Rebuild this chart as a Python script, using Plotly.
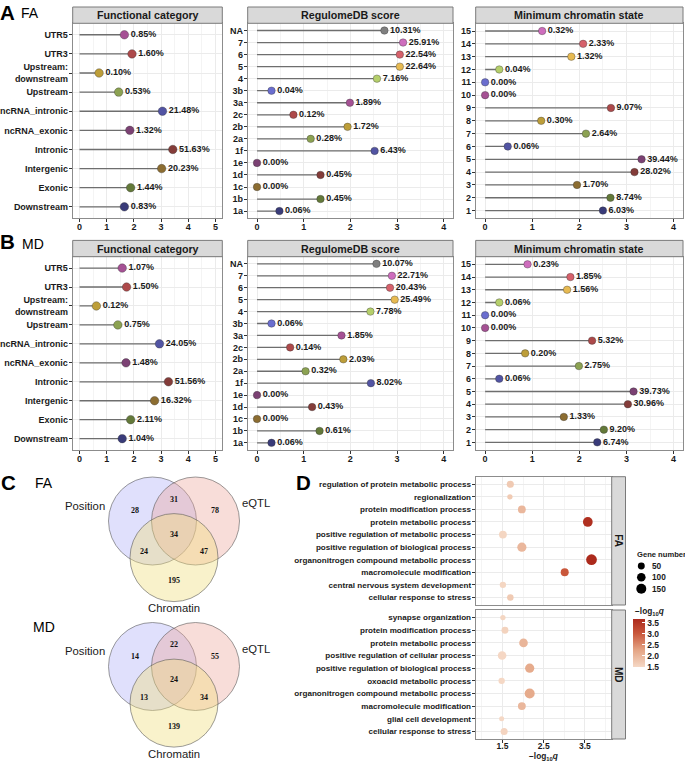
import plotly.graph_objects as go
import math

W, H = 685, 761
def px(x): return x / W
def py(y): return 1 - y / H

# ---------------- DATA ----------------
pal = ["#393B79", "#637939", "#8C6D31", "#843C39", "#7B4173", "#5254A3", "#8CA252",
       "#BD9E39", "#AD494A", "#A55194", "#6B6ECF", "#B5CF6B", "#E7BA52", "#D6616B", "#CE6DBD"]
na_color = "#7F7F7F"

func_cats = ["Downstream", "Exonic", "Intergenic", "Intronic", "ncRNA_exonic", "ncRNA_intronic",
             "Upstream", "Upstream:<br>downstream", "UTR3", "UTR5"]
func_fa_x = [1.65, 1.88, 3.02, 3.43, 1.85, 3.05, 1.44, 0.72, 1.93, 1.65]
func_fa_pct = ["0.83%", "1.44%", "20.23%", "51.63%", "1.32%", "21.48%", "0.53%", "0.10%", "1.60%", "0.85%"]
func_md_x = [1.57, 1.88, 2.76, 3.27, 1.71, 2.94, 1.41, 0.62, 1.73, 1.57]
func_md_pct = ["1.04%", "2.11%", "16.32%", "51.56%", "1.48%", "24.05%", "0.75%", "0.12%", "1.50%", "1.07%"]

reg_cats = ["1a", "1b", "1c", "1d", "1e", "1f", "2a", "2b", "2c", "3a", "3b", "4", "5", "6", "7", "NA"]
reg_fa_x = [0.48, 1.36, 0, 1.36, 0, 2.52, 1.15, 1.94, 0.78, 1.99, 0.31, 2.57, 3.06, 3.06, 3.13, 2.73]
reg_fa_pct = ["0.06%", "0.45%", "0.00%", "0.45%", "0.00%", "6.43%", "0.28%", "1.72%", "0.12%", "1.89%",
              "0.04%", "7.16%", "22.64%", "22.54%", "25.91%", "10.31%"]
reg_md_x = [0.31, 1.34, 0, 1.18, 0, 2.44, 1.04, 1.85, 0.71, 1.81, 0.31, 2.43, 2.95, 2.85, 2.89, 2.56]
reg_md_pct = ["0.06%", "0.61%", "0.00%", "0.43%", "0.00%", "8.02%", "0.32%", "2.03%", "0.14%", "1.85%",
              "0.06%", "7.78%", "25.49%", "20.43%", "22.71%", "10.07%"]

chrom_cats = [str(i) for i in range(1, 16)]
chrom_fa_x = [2.50, 2.66, 1.95, 3.17, 3.32, 0.48, 2.14, 1.19, 2.67, 0, 0, 0.30, 1.83, 2.08, 1.21]
chrom_fa_pct = ["6.03%", "8.74%", "1.70%", "28.02%", "39.44%", "0.06%", "2.64%", "0.30%", "9.07%",
                "0.00%", "0.00%", "0.04%", "1.32%", "2.33%", "0.32%"]
chrom_md_x = [2.38, 2.52, 1.67, 3.03, 3.15, 0.30, 1.99, 0.85, 2.27, 0, 0, 0.30, 1.74, 1.81, 0.90]
chrom_md_pct = ["6.74%", "9.20%", "1.33%", "30.96%", "39.73%", "0.06%", "2.75%", "0.20%", "5.32%",
                "0.00%", "0.00%", "0.06%", "1.56%", "1.85%", "0.23%"]

venn_sets = ["Position", "eQTL", "Chromatin"]
venn_regions = ["P", "E", "C", "PE", "PC", "EC", "PEC"]
venn_fa_counts = [28, 78, 195, 31, 24, 47, 34]
venn_md_counts = [14, 55, 139, 22, 13, 34, 24]

go_fa_terms = ["cellular response to stress", "central nervous system development", "macromolecule modification",
               "organonitrogen compound metabolic process", "positive regulation of biological process",
               "positive regulation of metabolic process", "protein metabolic process",
               "protein modification process", "regionalization", "regulation of protein metabolic process"]
go_fa_q = [1.69, 1.51, 3.01, 3.66, 1.97, 1.51, 3.57, 1.97, 1.68, 1.69]
go_fa_genes = [40, 35, 80, 180, 120, 75, 140, 75, 12, 55]

go_md_terms = ["cellular response to stress", "glial cell development", "macromolecule modification",
               "organonitrogen compound metabolic process", "oxoacid metabolic process",
               "positive regulation of biological process", "positive regulation of cellular process",
               "protein metabolic process", "protein modification process", "synapse organization"]
go_md_q = [1.54, 1.48, 1.97, 2.16, 1.48, 2.16, 1.49, 2.01, 1.56, 1.51]
go_md_genes = [53, 6, 77, 150, 36, 120, 100, 100, 50, 12]

size_legend_vals = [50, 100, 150]
cbar_ticks = [1.5, 2.0, 2.5, 3.0, 3.5]

# ---------------- STYLE ----------------
FONT = "Liberation Sans, Arial, sans-serif"
TXT = "#1a1a1a"
GRID = "#ebebeb"
BORDER = "#8c8c8c"
colorscale = [[0, "#f5d8c5"], [0.35, "#e4a585"], [0.7, "#c9573b"], [1, "#ac2a1c"]]

def gsize(n):
    return math.sqrt(22 + 0.52 * n)

def B(s):
    return "<b>" + str(s) + "</b>"

fig = go.Figure()
layout = dict(width=W, height=H, margin=dict(l=0, r=0, t=0, b=0),
              paper_bgcolor="white", plot_bgcolor="white", showlegend=False,
              font=dict(family=FONT, color=TXT))
shapes = []
annotations = []

def ann(x, y, text, size, color=TXT, family=None, xanchor="center", angle=0):
    f = dict(size=size, color=color)
    if family:
        f["family"] = family
    annotations.append(dict(x=px(x), y=py(y), xref="paper", yref="paper", text=text, showarrow=False,
                            xanchor=xanchor, yanchor="middle", textangle=angle, font=f))

def names(i):
    s = "" if i == 1 else str(i)
    return "x" + s, "y" + s, "xaxis" + s, "yaxis" + s

def strip(x0, x1, y0, y1, text, angle=0, size=10.7):
    shapes.append(dict(type="rect", xref="paper", yref="paper", x0=px(x0), x1=px(x1), y0=py(y1), y1=py(y0),
                       fillcolor="#d9d9d9", line=dict(color="#7a7a7a", width=1), layer="above"))
    ann((x0 + x1) / 2, (y0 + y1) / 2, B(text), size, angle=angle)

def lollipop(i, cats, xs, pcts, cols, xr, xmax, xd, yd, title, msize):
    xn, yn, xa, ya = names(i)
    sx, sy = [], []
    for c, v in zip(cats, xs):
        sx += [0, v, None]
        sy += [c, c, None]
    fig.add_trace(go.Scatter(x=sx, y=sy, mode="lines", line=dict(color="#6e6e6e", width=1.3),
                             xaxis=xn, yaxis=yn, hoverinfo="skip"))
    fig.add_trace(go.Scatter(x=xs, y=cats, mode="markers+text", text=[B(p) for p in pcts],
                             textposition="middle right", textfont=dict(size=9, color=TXT),
                             marker=dict(size=msize, color=cols, line=dict(color="rgba(50,50,50,0.6)", width=0.6)),
                             xaxis=xn, yaxis=yn, cliponaxis=False))
    ticks = list(range(0, xmax + 1))
    layout[xa] = dict(domain=[px(xd[0]), px(xd[1])], anchor=yn, range=xr,
                      tickvals=ticks, ticktext=[B(t) for t in ticks],
                      showgrid=True, gridcolor=GRID, gridwidth=1,
                      minor=dict(dtick=0.5, tick0=0, showgrid=True, gridcolor="#f4f4f4", gridwidth=0.6),
                      zeroline=False, showline=True, mirror=True, linecolor=BORDER, linewidth=1,
                      ticks="outside", ticklen=3, tickcolor="#333", tickwidth=1, ticklabelstandoff=-3,
                      tickfont=dict(size=9, color=TXT))
    layout[ya] = dict(domain=[py(yd[1]), py(yd[0])], anchor=xn, type="category", categoryorder="array",
                      categoryarray=cats, range=[-0.6, len(cats) - 0.4],
                      tickmode="array", tickvals=cats, ticktext=[B(c) for c in cats],
                      showgrid=True, gridcolor=GRID, gridwidth=1, zeroline=False,
                      showline=True, mirror=True, linecolor=BORDER, linewidth=1,
                      ticks="outside", ticklen=3, tickcolor="#333", tickwidth=1, ticklabelstandoff=-1,
                      tickfont=dict(size=9, color=TXT))
    strip(xd[0], xd[1], yd[0] - 16.3, yd[0], title)

func_cols = pal[:10]
reg_cols = pal + [na_color]
chrom_cols = pal

FX = (72.7, 222.3); RX = (247.7, 453); CX = (475.7, 683)
AY = (23.3, 218.3); BY = (256.7, 450)
lollipop(1, func_cats, func_fa_x, func_fa_pct, func_cols, [-0.25, 5.25], 5, FX, AY, "Functional category", 8.5)
lollipop(2, reg_cats, reg_fa_x, reg_fa_pct, reg_cols, [-0.2, 4.2], 4, RX, AY, "RegulomeDB score", 7.5)
lollipop(3, chrom_cats, chrom_fa_x, chrom_fa_pct, chrom_cols, [-0.2, 4.2], 4, CX, AY, "Minimum chromatin state", 7.5)
lollipop(4, func_cats, func_md_x, func_md_pct, func_cols, [-0.25, 5.25], 5, FX, BY, "Functional category", 8.5)
lollipop(5, reg_cats, reg_md_x, reg_md_pct, reg_cols, [-0.2, 4.2], 4, RX, BY, "RegulomeDB score", 7.5)
lollipop(6, chrom_cats, chrom_md_x, chrom_md_pct, chrom_cols, [-0.2, 4.2], 4, CX, BY, "Minimum chromatin state", 7.5)

# ---------------- Panel D (dot plot) ----------------
DX = (475.7, 611.7)
D_FA_Y = (476.7, 605)
D_MD_Y = (610, 739)
xr_d = [0.85, 4.15]
dticks = [1.5, 2.5, 3.5]
for i, terms, q, genes, yd, label, last in [(7, go_fa_terms, go_fa_q, go_fa_genes, D_FA_Y, "FA", False),
                                           (8, go_md_terms, go_md_q, go_md_genes, D_MD_Y, "MD", True)]:
    xn, yn, xa, ya = names(i)
    mk = dict(size=[gsize(g) for g in genes], color=q, colorscale=colorscale, cmin=1.48, cmax=3.66,
              line=dict(width=0), showscale=(i == 7), opacity=1)
    if i == 7:
        mk["colorbar"] = dict(x=px(633.3), xanchor="left", y=py(643), yanchor="middle",
                              thickness=11.7, thicknessmode="pixels", len=47.5, lenmode="pixels",
                              outlinewidth=0, xpad=0, ypad=0, tickvals=cbar_ticks,
                              ticktext=[B("%.1f" % t) for t in cbar_ticks],
                              ticks="inside", ticklen=3, tickcolor="white",
                              tickfont=dict(size=8.5, color=TXT))
    fig.add_trace(go.Scatter(x=q, y=terms, mode="markers", marker=mk, xaxis=xn, yaxis=yn))
    layout[xa] = dict(domain=[px(DX[0]), px(DX[1])], anchor=yn, range=xr_d,
                      tickvals=dticks, ticktext=[B(t) for t in dticks], showticklabels=last,
                      ticks="outside" if last else "", ticklen=3, tickcolor="#333", ticklabelstandoff=-4,
                      showgrid=True, gridcolor=GRID, gridwidth=1,
                      minor=dict(tickvals=[1, 2, 3, 4], showgrid=True, gridcolor="#f4f4f4", gridwidth=0.6),
                      zeroline=False, showline=True, mirror=True, linecolor=BORDER, linewidth=1,
                      tickfont=dict(size=8.5, color=TXT))
    layout[ya] = dict(domain=[py(yd[1]), py(yd[0])], anchor=xn, type="category", categoryorder="array",
                      categoryarray=terms, range=[-0.6, len(terms) - 0.4],
                      tickmode="array", tickvals=terms, ticktext=[B(t) for t in terms],
                      showgrid=True, gridcolor=GRID, gridwidth=1, zeroline=False,
                      showline=True, mirror=True, linecolor=BORDER, linewidth=1,
                      ticks="outside", ticklen=3, tickcolor="#333", ticklabelstandoff=-1,
                      tickfont=dict(size=8.1, color=TXT))
    strip(611.7, 625.5, yd[0], yd[1], label, angle=90, size=10)

ann(543.7, 756.5, B("\u2212log<sub>10</sub><i>q</i>"), 8.3)
# size legend
ann(634.5, 554.7, B("Gene number"), 7.6, xanchor="left")
for v, yy in zip(size_legend_vals, [566, 577.3, 588.7]):
    r = gsize(v) / 2
    shapes.append(dict(type="circle", xref="paper", yref="paper", x0=px(641.3 - r), x1=px(641.3 + r),
                       y0=py(yy + r), y1=py(yy - r), fillcolor="black", line=dict(width=0)))
    ann(649.5, yy, B(v), 8.3, xanchor="left")
ann(633, 611, B("\u2212log<sub>10</sub><i>q</i>"), 8.3, xanchor="left")

# ---------------- Panel C (Venn) ----------------
R = 44
venn_fill = ["rgba(165,165,245,0.34)", "rgba(235,160,150,0.36)", "rgba(240,222,125,0.40)"]
region_off = {"P": (-39, -10), "E": (40.5, -10), "C": (-0.3, 59.5), "PE": (-0.5, -22),
              "PC": (-30, 30.5), "EC": (29.5, 30.5), "PEC": (-0.3, 13)}
for cy, counts in [(521, venn_fa_counts), (666.5, venn_md_counts)]:
    centers = [(152.5, cy), (195.5, cy), (174, cy + 36.6)]
    for (cx, ccy), fc in zip(centers, venn_fill):
        shapes.append(dict(type="circle", xref="paper", yref="paper", x0=px(cx - R), x1=px(cx + R),
                           y0=py(ccy + R), y1=py(ccy - R), fillcolor=fc,
                           line=dict(color="rgba(90,90,90,0.75)", width=0.8), layer="below"))
    for reg, n in zip(venn_regions, counts):
        dx, dy = region_off[reg]
        ann(174 + dx, cy + dy, B(n), 8, color="#111", family="Liberation Serif, Times New Roman, serif")
    ann(85, cy - 15.5, venn_sets[0], 11.3)
    ann(256, cy - 17.5, venn_sets[1], 11.3)
    ann(174, cy + 87, venn_sets[2], 11.3)

# ---------------- Panel letters ----------------
for t, x, y, s, b in [("A", 7.5, 12, 20.5, True), ("FA", 30, 13, 14, False),
                      ("B", 7.5, 241, 20.5, True), ("MD", 32.5, 244, 14, False),
                      ("C", 8.5, 482, 20.5, True), ("FA", 44, 483, 14, False),
                      ("MD", 44, 627, 14, False), ("D", 303.5, 482, 20.5, True)]:
    ann(x, y, B(t) if b else t, s, color="black")

layout["shapes"] = shapes
layout["annotations"] = annotations
fig.update_layout(**layout)
fig.write_html("out.html", config={"displayModeBar": False},
               post_script="document.body.style.margin='0';document.body.style.overflow='hidden';")
